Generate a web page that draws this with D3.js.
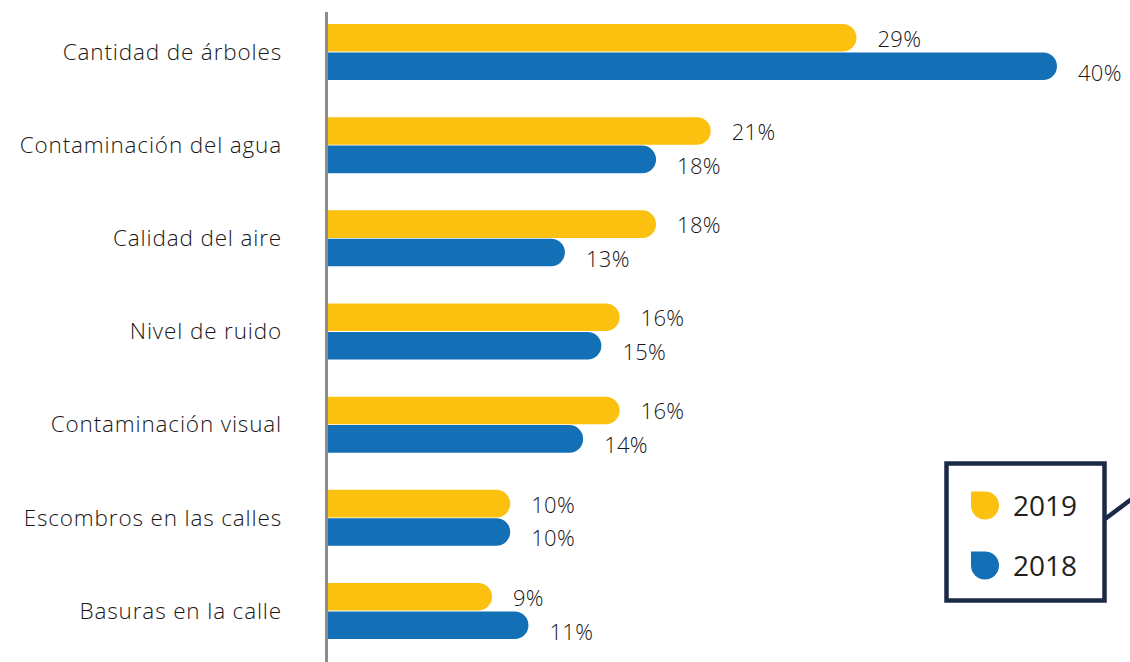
<!DOCTYPE html>
<html>
<head>
<meta charset="utf-8">
<script src="https://cdn.jsdelivr.net/npm/d3@7"></script>
<style>
  html, body { margin: 0; padding: 0; background: #ffffff; }
  svg { display: block; }
</style>
</head>
<body>
<script>
const categories = [
  "Cantidad de árboles",
  "Contaminación del agua",
  "Calidad del aire",
  "Nivel de ruido",
  "Contaminación visual",
  "Escombros en las calles",
  "Basuras en la calle"
];
const seriesNames = ["2019", "2018"];
const values2019 = [29, 21, 18, 16, 16, 10, 9];
const values2018 = [40, 18, 13, 15, 14, 10, 11];
const seriesColors = ["#FCC00F", "#136FB6"];

const W = 1130, H = 662;
const FONT = "'Open Sans', Lato, sans-serif";
const svg = d3.select("body").append("svg").attr("width", W).attr("height", H);

const x = d3.scaleLinear().domain([0, 40]).range([328, 1057]);
const step = 93.17;
const y0 = d3.scaleBand().domain(categories).range([52 - step / 2, 52 + step * 6.5]).padding(0);
const y1 = d3.scaleBand().domain(seriesNames).range([-28, 28]).paddingInner(0.03);

const data = categories.map((c, i) => ({
  cat: c,
  vals: [
    { s: "2019", v: values2019[i], color: seriesColors[0] },
    { s: "2018", v: values2018[i], color: seriesColors[1] }
  ]
}));

function barPath(x0, x1, yTop, h) {
  const r = h / 2;
  const xe = Math.max(x0, x1 - r);
  return `M${x0},${yTop}H${xe}A${r},${r} 0 0 1 ${xe},${yTop + h}H${x0}Z`;
}

const groups = svg.selectAll("g.cat").data(data).join("g")
  .attr("class", "cat")
  .attr("transform", d => `translate(0,${y0(d.cat) + y0.bandwidth() / 2})`);

groups.selectAll("path.bar").data(d => d.vals).join("path")
  .attr("class", "bar")
  .attr("fill", d => d.color)
  .attr("d", d => barPath(x(0), x(d.v), y1(d.s), y1.bandwidth()));

groups.selectAll("text.val").data(d => d.vals).join("text")
  .attr("class", "val")
  .attr("x", d => x(d.v) + 21)
  .attr("y", d => y1(d.s) + y1.bandwidth() / 2 + (d.s === "2018" ? 6.5 : 1))
  .attr("dy", "0.36em")
  .attr("font-family", FONT)
  .attr("font-weight", 300)
  .attr("font-size", 22)
  .attr("letter-spacing", 0.3)
  .attr("fill", "#1a1718")
  .text(d => d.v + "%");

// category labels via axis
const yAxis = d3.axisLeft(d3.scalePoint().domain(categories)
  .range([y0(categories[0]) + step / 2, y0(categories[6]) + step / 2]))
  .tickSize(0).tickPadding(0);
const ax = svg.append("g").attr("transform", "translate(282,0)").call(yAxis);
ax.select(".domain").remove();
ax.selectAll("text")
  .attr("font-family", FONT)
  .attr("font-weight", 300)
  .attr("font-size", 22.5)
  .attr("letter-spacing", 0.85)
  .attr("fill", "#1a1718");

// vertical axis line
svg.append("line")
  .attr("x1", 326.5).attr("x2", 326.5)
  .attr("y1", 12).attr("y2", H)
  .attr("stroke", "#8c8c8c").attr("stroke-width", 3);

// legend
const lg = svg.append("g");
lg.append("line")
  .attr("x1", 1105).attr("y1", 519)
  .attr("x2", 1145).attr("y2", 489)
  .attr("stroke", "#1b2a47").attr("stroke-width", 4.5);
lg.append("rect")
  .attr("x", 946.5).attr("y", 463.5)
  .attr("width", 158).attr("height", 137)
  .attr("fill", "#ffffff")
  .attr("stroke", "#1b2a47").attr("stroke-width", 4.5);

const legendY = d3.scalePoint().domain(seriesNames).range([505.5, 565.5]);
function iconPath(cx, cy, r) {
  return `M${cx - r},${cy - r}H${cx}A${r},${r} 0 1 1 ${cx - r},${cy}Z`;
}
const li = lg.selectAll("g.li").data(seriesNames).join("g").attr("class", "li");
li.append("path")
  .attr("d", d => iconPath(985, legendY(d), 14))
  .attr("fill", (d, i) => seriesColors[i]);
li.append("text")
  .attr("x", 1013)
  .attr("y", d => legendY(d))
  .attr("dy", "0.36em")
  .attr("font-family", FONT)
  .attr("font-size", 28)
  .attr("fill", "#231f20")
  .text(d => d);
</script>
</body>
</html>
